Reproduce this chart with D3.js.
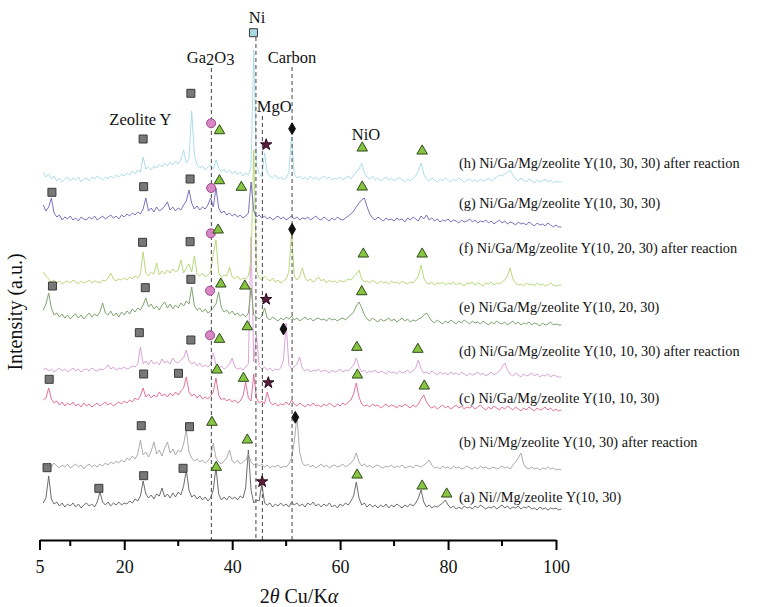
<!DOCTYPE html>
<html>
<head>
<meta charset="utf-8">
<script src="https://cdn.jsdelivr.net/npm/d3@7/dist/d3.min.js"></script>
<style>
body { margin: 0; background: #fff; }
text { font-family: "Liberation Serif", "Times New Roman", serif; fill: #111; }
</style>
</head>
<body>
<div id="chart"></div>
<script>
var svgWidth = 770;
var svgHeight = 607;

// scan grid, 0.5 degree steps
var twoTheta = d3.range(5, 101.01, 0.5);

var sampleLabels = [
  "(a) Ni//Mg/zeolite Y(10, 30)",
  "(b) Ni/Mg/zeolite Y(10, 30) after reaction",
  "(c) Ni/Ga/Mg/zeolite Y(10, 10, 30)",
  "(d) Ni/Ga/Mg/zeolite Y(10, 10, 30) after reaction",
  "(e) Ni/Ga/Mg/zeolite Y(10, 20, 30)",
  "(f) Ni/Ga/Mg/zeolite Y(10, 20, 30) after reaction",
  "(g) Ni/Ga/Mg/zeolite Y(10, 30, 30)",
  "(h) Ni/Ga/Mg/zeolite Y(10, 30, 30) after reaction"
];
var sampleColors = ["#5c5c5c", "#a3a3a3", "#e0628f", "#d79ad2", "#729b60", "#b2d46c", "#6b62b6", "#a6d9e6"];
// vertical offset of each pattern (a.u.)
var offsets = [34, 74, 136, 170, 222, 258, 321, 361];
var labelLevels = [43, 98, 142, 189, 233, 292, 337, 377];

var scanA = [
  3, 8, 30, 7, 2, 4, 0, 3, -1, 2,
  0, 3, -1, 2, -2, 1, 3, 0, 2, -1,
  4, 14, 4, 1, 4, 0, 3, 1, 4, 1,
  3, 2, 5, 3, 7, 5, 10, 25, 12, 8,
  11, 7, 12, 10, 18, 9, 12, 8, 13, 9,
  14, 11, 20, 36, 16, 9, 11, 7, 10, 6,
  9, 5, 8, 16, 39, 12, 6, 9, 6, 10,
  7, 9, 6, 10, 8, 18, 56, 16, 3, 6,
  5, 22, 3, 1, 3, -1, 2, 0, 3, 0,
  2, -1, 4, 1, 3, 0, 2, -1, 3, 1,
  4, 0, 2, -1, 2, 0, 3, -1, 1, -2,
  2, 0, 3, 1, 5, 10, 24, 8, 1, 3,
  -1, 2, -1, 1, -2, 1, -1, 2, -2, 1,
  -1, 2, 0, -2, 1, -1, 2, 0, 3, 8,
  16, 4, -1, 1, -2, 0, -1, 1, 3, 6,
  1, -2, 0, -3, -1, -3, 0, -2, -1, -3,
  0, -2, 1, -1, -3, -1, -2, 0, -3, -1,
  1, -2, 0, -3, -1, -2, 0, -3, -1, -2,
  0, -3, -2, -4, -1, -3, -2, -4, -2, -3,
  -2, -4, -3
];
var scanB = [
  3, 0, 2, -1, 3, 0, -2, 1, -1, 2,
  -2, 0, 2, -1, 1, -3, 0, 2, -1, 1,
  -1, 2, 0, 3, 1, 4, 2, 5, 3, 6,
  4, 8, 6, 10, 7, 12, 26, 11, 14, 9,
  15, 24, 12, 16, 10, 18, 24, 13, 17, 11,
  16, 14, 22, 36, 14, 8, 5, 7, 4, 6,
  3, 5, 9, 23, 8, 4, 2, 5, 8, 16,
  5, 3, 6, 2, 4, 6, 12, 4, 1, 3,
  0, 2, -1, 1, -2, 0, -1, 1, -2, 0,
  -1, 2, 8, 24, 50, 14, 3, 0, 2, -1,
  1, -2, 0, 2, -1, 1, -2, 0, 1, -1,
  0, 2, -1, 1, 3, 6, 13, 4, 0, 2,
  -1, 1, -2, 0, 1, -1, -2, 0, -1, 1,
  -2, 0, -1, 1, -2, -1, 0, -2, 1, 0,
  -1, 1, 3, 6, 1, -2, -1, -3, 0, -2,
  -1, -3, 0, -2, -1, -3, -2, 0, -2, -3,
  -1, -3, 0, -2, -1, -3, -2, -1, -3, -2,
  0, -2, -1, -3, 1, 4, 8, 13, 2, -2,
  -3, -1, -3, -2, -4, -2, -3, -1, -3, -2,
  -4, -3, -4
];
var scanC = [
  4, 6, 16, 5, 1, 3, -1, 2, -2, 1,
  -1, 2, -2, 0, -3, 1, -2, 0, -3, -1,
  1, -2, 0, 2, -1, 1, -2, 0, 2, 0,
  3, 1, 4, 2, 6, 4, 8, 16, 7, 10,
  6, 9, 7, 12, 8, 10, 7, 11, 8, 12,
  9, 13, 16, 27, 12, 8, 10, 6, 9, 5,
  7, 5, 8, 12, 26, 9, 4, 6, 3, 5,
  2, 4, 1, 3, 8, 22, 6, 3, 30, 6,
  1, 3, 0, 12, 2, -1, 1, -2, 0, -1,
  2, -1, 4, 0, -2, 1, -1, -3, 0, -2,
  1, -2, -1, -3, 0, -2, 1, -1, -3, 0,
  -2, 1, -1, 2, 4, 10, 21, 7, 0, -2,
  -1, -3, 0, -2, -1, -4, -2, 0, -3, -1,
  -2, -4, -1, -3, 0, -2, -4, -1, -3, 0,
  5, 9, 2, -2, -4, -2, -5, -3, -1, -4,
  -2, -5, -3, -1, -4, -2, -5, -3, -4, -2,
  -5, -3, -1, -4, -6, -3, -5, -2, -4, -6,
  -3, -5, -2, -4, -6, -3, -5, -7, -4, -6,
  -3, -5, -7, -4, -6, -5, -3, -6, -4, -7,
  -5, -7, -6
];
var scanD = [
  0, 2, -1, 1, -2, 0, 2, -1, 1, -2,
  0, 2, -1, 1, -2, 0, 1, -1, 2, 0,
  -1, 1, 0, 2, 5, 1, 3, 0, 2, 1,
  3, 1, 2, 4, 3, 6, 23, 6, 9, 5,
  10, 6, 8, 5, 11, 7, 9, 6, 12, 8,
  7, 10, 12, 20, 9, 6, 8, 4, 7, 3,
  5, 3, 6, 17, 5, 2, 4, 1, 3, 6,
  12, 3, 1, 2, 0, 3, 6, 133, 8, 35,
  4, 1, 3, 0, 2, -1, 1, 0, 2, 10,
  47, 5, 1, 3, 6, 13, 2, -1, 1, -2,
  0, -1, 1, -2, 0, -1, -3, 0, -2, -1,
  1, -2, 0, -1, 2, 5, 12, 3, -2, 0,
  -3, -1, -2, 0, -3, -1, -2, -4, -1, -3,
  -2, -4, -1, -3, -2, 0, -3, -1, 2, 10,
  1, -3, -2, -4, -1, -3, -5, -2, -4, -3,
  -5, -2, -4, -3, -5, -2, -4, -6, -3, -5,
  -4, -2, -5, -3, -6, -4, -2, -5, -3, -1,
  3, 7, 0, -4, -6, -3, -5, -7, -4, -6,
  -5, -3, -6, -4, -7, -5, -6, -4, -7, -5,
  -6, -7, -7
];
var scanE = [
  8, 14, 25, 10, 3, 5, 1, 4, 0, 3,
  -1, 2, 4, 0, 3, -1, 2, 5, 1, 4,
  2, 6, 15, 5, 3, 7, 2, 5, 1, 6,
  3, 7, 4, 9, 6, 10, 8, 13, 20, 11,
  14, 9, 12, 8, 13, 16, 10, 14, 9, 13,
  10, 15, 12, 17, 14, 31, 12, 8, 10, 6,
  9, 5, 7, 10, 14, 26, 10, 6, 8, 4,
  7, 3, 5, 2, 4, 1, 5, 30, 3, 1,
  -1, 2, 10, 0, -2, 1, -1, -3, 0, -2,
  1, -1, 2, -2, 0, -3, -1, 1, -2, 0,
  -3, -1, 0, -2, -1, -3, 0, -2, -1, -3,
  -1, 0, -2, 1, 3, 6, 12, 16, 10, 3,
  -1, -3, 0, -2, -4, -1, -3, -2, 0, -3,
  -1, -4, -2, 0, -3, -1, -4, -2, -3, -1,
  0, 3, 5, 1, -3, -5, -2, -4, -6, -3,
  -5, -2, -4, -6, -3, -5, -2, -4, -6, -3,
  -5, -4, -6, -3, -5, -7, -4, -6, -3, -5,
  -6, -4, -7, -5, -3, -6, -4, -7, -5, -6,
  -4, -7, -5, -6, -8, -5, -7, -6, -4, -7,
  -6, -7, -7
];
var scanF = [
  10, 6, 3, 0, 2, -1, 1, -2, 0, 1,
  -1, 2, 0, -2, 1, -1, 0, 2, -1, 1,
  0, -1, 2, 1, 4, 9, 3, 1, 3, 2,
  4, 2, 5, 3, 6, 4, 8, 30, 9, 6,
  10, 8, 19, 7, 11, 8, 12, 9, 13, 10,
  12, 22, 9, 14, 18, 10, 26, 8, 6, 9,
  5, 7, 10, 28, 42, 9, 5, 7, 6, 15,
  5, 3, 6, 2, 4, 3, 6, 20, 132, 12,
  4, 2, 6, 3, 1, 4, 0, 2, -1, 1,
  3, 10, 49, 6, 2, 5, 14, 4, 1, 3,
  0, 2, 5, 1, 3, -1, 2, 0, 1, -1,
  2, 0, 1, 3, 2, 5, 8, 12, 3, 0,
  1, -1, 2, 0, -2, 1, -1, 0, -2, 1,
  -1, 0, -2, 1, -1, -2, 0, -1, 2, 6,
  17, 4, -1, -2, 0, -3, -1, -2, 0, -3,
  -1, -2, 0, -3, -1, -2, -4, -1, -2, 0,
  -3, -1, -2, -4, -1, -2, 0, -3, -1, -2,
  0, 2, 6, 14, 3, -1, -3, -2, -4, -1,
  -3, -2, -4, -1, -3, -2, -4, -3, -1, -3,
  -4, -3, -3
];
var scanG = [
  14, 8, 12, 21, 6, 2, 4, -1, 2, 0,
  3, -1, 1, -2, 2, 0, -1, 2, 0, 3,
  -1, 1, 3, 0, 2, 4, 1, 3, 0, 4,
  2, 5, 3, 6, 4, 7, 5, 10, 21, 8,
  11, 7, 12, 8, 10, 13, 17, 9, 12, 8,
  11, 9, 14, 18, 29, 16, 10, 13, 9, 12,
  10, 14, 21, 12, 31, 11, 6, 8, 4, 6,
  3, 5, 2, 4, 1, 3, 6, 37, 8, 2,
  4, 1, 3, 0, 2, -1, 1, 3, 0, 2,
  -1, 1, 3, 0, 2, -1, 1, 0, 2, -1,
  1, 3, 0, -1, 2, 0, -2, 1, -1, 2,
  0, -1, 1, 3, 5, 8, 12, 16, 19, 21,
  12, 5, 1, -1, 2, 0, -2, 1, -1, 0,
  -2, 1, -1, 0, -3, 1, -1, 2, 0, -2,
  3, 0, 4, -1, 1, -2, 0, -3, -1, -2,
  0, -3, -1, -2, -4, -1, -3, -2, 0, -3,
  -1, -4, -2, -3, -1, -4, -2, -5, -3, -1,
  -4, -2, -5, -3, -4, -6, -3, -5, -4, -6,
  -3, -5, -7, -4, -6, -5, -7, -4, -6, -8,
  -6, -8, -8
];
var scanH = [
  7, 2, 5, 0, 3, -2, 1, -3, 0, 2,
  -2, 1, -1, 2, -3, 0, 1, -2, 2, 0,
  3, 1, -1, 2, 0, 3, 1, 4, 2, 5,
  3, 6, 4, 8, 5, 9, 7, 22, 10, 12,
  9, 13, 11, 15, 12, 16, 13, 17, 14, 18,
  15, 19, 29, 16, 20, 68, 24, 14, 11, 13,
  9, 12, 14, 10, 19, 11, 7, 10, 6, 9,
  5, 8, 4, 7, 3, 6, 4, 12, 129, 14,
  5, 2, 26, 6, 3, 1, 4, 0, 2, -1,
  1, 6, 42, 5, 1, 3, 0, 2, -1, 3,
  0, 2, -1, 1, 3, 0, 2, -1, 1, 0,
  2, -1, 1, 3, 0, 4, 7, 10, 16, 6,
  2, 0, 3, -1, 1, -2, 0, 2, -1, 1,
  -2, 0, 1, -1, -3, 0, -2, 1, 3, 8,
  16, 5, 0, -2, 1, -1, -3, 0, -2, 1,
  -1, -3, 0, -2, 1, -1, -3, -1, 0, -2,
  -1, -3, 0, -2, -1, 1, -2, 0, 2, 4,
  3, 5, 7, 9, 4, 0, -2, 1, -1, -3,
  0, -2, -4, -1, -3, -2, 0, -3, -1, -4,
  -2, -3, -3
];
var scans = [scanA, scanB, scanC, scanD, scanE, scanF, scanG, scanH];

// phase markers [2theta, level]
var zeoliteMarks = [[23.5, 401], [32.35, 446.7], [6.6, 347.7], [23.6, 353.3], [32.2, 361],
  [23.4, 297.7], [32.2, 298.3], [6.7, 254], [23.9, 252.3], [32.35, 260.7],
  [22.8, 207.3], [32.35, 200], [6.1, 160.7], [23.6, 166], [30.05, 166.7],
  [23.15, 114.3], [32.1, 113.3], [5.7, 72.3], [15.3, 51.7], [23.6, 64.3], [30.9, 71.7]];
var ga2o3Marks = [[36.1, 416.7], [36.1, 352], [36.05, 306.7], [35.9, 249.3], [35.9, 204.7]];
var nioMarks = [[37.65, 409.3], [64.1, 392], [75.2, 389], [37.65, 359.3], [41.7, 352.7], [64.1, 353],
  [37.4, 310], [64.3, 286], [75.2, 286], [37.9, 256], [42.35, 254], [64.0, 248.3],
  [37.65, 200.7], [42.8, 213.3], [63.1, 192.7], [74.4, 190.7], [37.2, 170], [42.1, 161.7],
  [63.2, 165], [75.6, 154], [36.25, 117.7], [37.05, 72.7], [42.8, 100], [63.15, 65],
  [75.2, 54], [79.75, 46]];
var mgoMarks = [[46.3, 395.3], [46.3, 240.7], [46.7, 157.3], [45.55, 58.3]];
var carbonMarks = [[51.1, 411.3], [51.1, 310.7], [49.5, 211], [51.7, 122.7]];
var niMarks = [[43.95, 507.3]];

// reference lines [2theta, top level]
var phaseLines = [[36.15, 472], [44.4, 503], [45.6, 424], [51.1, 473]];
// phase names [text parts, 2theta, level]; digits of Ga2O3 sit low
var phaseNames = [[["Zeolite Y"], 23.0, 415], [["Ga", "2", "O", "3"], 36.0, 477], [["Ni"], 44.6, 517],
  [["MgO"], 47.8, 428], [["Carbon"], 51.1, 477], [["NiO"], 64.8, 400]];

var xTickValues = [4.3, 20, 40, 60, 80, 100];
var xTickLabels = ["5", "20", "40", "60", "80", "100"];
var xMinorTicks = [10, 30, 50, 70, 90];

var svg = d3.select("#chart")
  .append("svg")
  .attr("width", svgWidth)
  .attr("height", svgHeight);

var x = d3.scaleLinear().domain([4.3, 100]).range([39.5, 556]);
var y = d3.scaleLinear().domain([0, 540]).range([540, 0]);

// patterns
scans.forEach(function(scan, k) {
  var line = d3.line()
    .x(function(d, i) { return x(twoTheta[i]); })
    .y(function(d) { return y(offsets[k] + d); });
  svg.append("path")
    .datum(scan)
    .attr("fill", "none")
    .attr("stroke", sampleColors[k])
    .attr("stroke-width", 0.9)
    .attr("stroke-linejoin", "round")
    .attr("d", line);
});

// dashed phase lines
svg.selectAll(".phase-line")
  .data(phaseLines)
  .enter()
  .append("line")
  .attr("x1", d => x(d[0]))
  .attr("x2", d => x(d[0]))
  .attr("y1", d => y(d[1]))
  .attr("y2", y(0))
  .attr("stroke", "#555")
  .attr("stroke-width", 1.1)
  .attr("stroke-dasharray", "4,3");

// markers
function drawSymbols(data, type, size, fill, stroke) {
  svg.append("g").selectAll("path")
    .data(data)
    .enter()
    .append("path")
    .attr("transform", d => `translate(${x(d[0])},${y(d[1])})`)
    .attr("d", d3.symbol().type(type).size(size))
    .attr("fill", fill)
    .attr("stroke", stroke)
    .attr("stroke-width", 1);
}
drawSymbols(zeoliteMarks, d3.symbolSquare, 64, "#787878", "#3a3a3a");
drawSymbols(niMarks, d3.symbolSquare, 64, "#a9d9e3", "#3a3a3a");
drawSymbols(ga2o3Marks, d3.symbolCircle, 64, "#d986c4", "#9a4a88");
drawSymbols(nioMarks, d3.symbolTriangle, 48, "#86c441", "#2f4a1c");
drawSymbols(mgoMarks, d3.symbolStar, 40, "#5a1d3c", "#2a0a1a");
drawSymbols(carbonMarks, d3.symbolDiamond, 40, "#111", "#111");

// phase names
svg.selectAll(".phase-name")
  .data(phaseNames)
  .enter()
  .append("text")
  .attr("x", d => x(d[1]))
  .attr("y", d => y(d[2]))
  .attr("text-anchor", "middle")
  .style("font-size", "16.5px")
  .each(function(d) {
    var t = d3.select(this);
    d[0].forEach(function(part) {
      var isDigit = /^[0-9]$/.test(part);
      t.append("tspan")
        .attr("dy", isDigit ? 2 : (part === "O" ? -2 : 0))
        .text(part);
    });
  });

// sample labels
svg.selectAll(".sample-label")
  .data(sampleLabels)
  .enter()
  .append("text")
  .attr("x", 459)
  .attr("y", (d, i) => y(labelLevels[i]) + 5)
  .style("font-size", "14.3px")
  .text(d => d);

// x axis
var axis = svg.append("g")
  .attr("transform", `translate(0, ${y(0)})`)
  .call(d3.axisBottom(x)
    .tickValues(xTickValues)
    .tickFormat((d, i) => xTickLabels[i])
    .tickSize(10)
    .tickSizeOuter(0)
    .tickPadding(10));
axis.select(".domain").attr("stroke", "#000").attr("stroke-width", 2);
axis.selectAll(".tick line").attr("stroke", "#000").attr("stroke-width", 2);
axis.selectAll(".tick text")
  .style("font-family", "'Liberation Serif', serif")
  .style("font-size", "18px")
  .attr("fill", "#111");

svg.append("g")
  .attr("transform", `translate(0, ${y(0)})`)
  .selectAll("line")
  .data(xMinorTicks)
  .enter()
  .append("line")
  .attr("x1", d => x(d))
  .attr("x2", d => x(d))
  .attr("y1", 0)
  .attr("y2", 6)
  .attr("stroke", "#000")
  .attr("stroke-width", 2);

// axis titles
var xTitle = svg.append("text")
  .attr("x", 299)
  .attr("y", 603)
  .attr("text-anchor", "middle")
  .style("font-size", "20px");
xTitle.append("tspan").text("2");
xTitle.append("tspan").style("font-style", "italic").text("θ");
xTitle.append("tspan").text(" Cu/K");
xTitle.append("tspan").style("font-style", "italic").text("α");

svg.append("text")
  .attr("transform", "translate(22, 312) rotate(-90)")
  .attr("text-anchor", "middle")
  .style("font-size", "20px")
  .text("Intensity (a.u.)");
</script>
</body>
</html>
